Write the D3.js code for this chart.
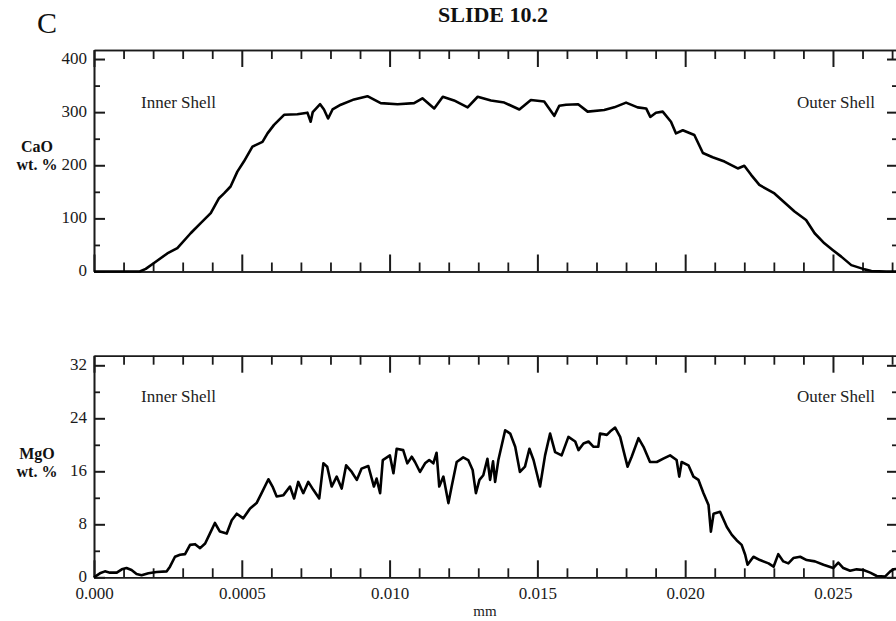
<!DOCTYPE html>
<html>
<head>
<meta charset="utf-8">
<script src="https://cdn.jsdelivr.net/npm/d3@7"></script>
<style>
  body { margin: 0; background: #fff; }
  svg { display: block; font-family: "Liberation Serif", "DejaVu Serif", serif; }
</style>
</head>
<body>
<svg width="896" height="621"></svg>
<script>
// distance across the shell (mm) vs oxide content
var caoProfile = [
  [0, 0], [0.0005, 0], [0.001, 0], [0.00155, 0], [0.00175, 5], [0.00203, 16], [0.00248, 34],
  [0.00282, 44], [0.00327, 72], [0.00361, 91], [0.00395, 110], [0.00423, 138], [0.0044, 147],
  [0.00462, 160], [0.00485, 188], [0.00507, 207], [0.00536, 235], [0.0057, 244], [0.00587, 260],
  [0.00609, 276], [0.00643, 295], [0.00688, 296], [0.00722, 299], [0.00733, 282], [0.0074, 300],
  [0.00765, 315], [0.00778, 305], [0.00792, 288], [0.00807, 305], [0.00835, 314], [0.0088, 324],
  [0.00925, 330], [0.0097, 317], [0.01027, 315], [0.01083, 317], [0.01111, 326], [0.01151, 307],
  [0.0118, 329], [0.01218, 322], [0.01264, 309], [0.01298, 329], [0.01343, 322], [0.01388, 318],
  [0.01439, 305], [0.01478, 323], [0.01523, 320], [0.01557, 293], [0.01574, 312], [0.01597, 314],
  [0.01638, 315], [0.0167, 301], [0.01726, 304], [0.0176, 309], [0.018, 318], [0.01839, 309],
  [0.01868, 307], [0.01882, 291], [0.01901, 299], [0.01924, 301], [0.01952, 282], [0.01969, 260],
  [0.01992, 266], [0.02031, 257], [0.0206, 223], [0.02093, 215], [0.02133, 207], [0.02178, 194],
  [0.022, 199], [0.02223, 182], [0.02251, 163], [0.02302, 147], [0.02336, 130], [0.0237, 113],
  [0.02409, 97], [0.02438, 72], [0.02471, 53], [0.025, 40], [0.02528, 28], [0.02562, 12],
  [0.02607, 4], [0.0263, 1], [0.0268, 0], [0.0272, 0]
];

var mgoProfile = [
  [0, 0], [0.0002, 0.6], [0.00037, 0.9], [0.00054, 0.7], [0.00077, 0.7], [0.00094, 1.2], [0.0011, 1.4],
  [0.00127, 1.1], [0.00144, 0.5], [0.00161, 0.3], [0.00184, 0.6], [0.00212, 0.8], [0.00246, 0.9],
  [0.00257, 1.6], [0.00274, 3.1], [0.00291, 3.4], [0.00308, 3.5], [0.00325, 4.9], [0.00342, 5.0],
  [0.00359, 4.4], [0.00376, 5.1], [0.00392, 6.6], [0.00409, 8.2], [0.00426, 6.9], [0.00449, 6.6],
  [0.00466, 8.6], [0.00483, 9.6], [0.00505, 8.9], [0.00528, 10.4], [0.0055, 11.2], [0.00567, 12.7],
  [0.0059, 14.8], [0.00604, 13.7], [0.00618, 12.2], [0.00641, 12.4], [0.00663, 13.7], [0.00677, 11.9],
  [0.00691, 14.4], [0.00708, 12.7], [0.00725, 14.4], [0.00742, 13.2], [0.00762, 11.9], [0.00776, 17.2],
  [0.00789, 16.7], [0.00804, 13.7], [0.00821, 15.2], [0.00838, 13.4], [0.00853, 16.9], [0.00872, 15.9],
  [0.00889, 14.7], [0.00905, 16.4], [0.00928, 16.8], [0.00947, 13.7], [0.00956, 14.9], [0.00968, 12.7],
  [0.00977, 17.7], [0.01001, 18.4], [0.01013, 15.7], [0.01024, 19.4], [0.01046, 19.2], [0.0106, 17.2],
  [0.01075, 18.2], [0.01086, 17.4], [0.01103, 15.9], [0.0112, 17.2], [0.01134, 17.7], [0.01148, 17.2],
  [0.01159, 18.8], [0.01168, 13.7], [0.01182, 15.2], [0.01199, 11.2], [0.0121, 13.7], [0.01227, 17.4],
  [0.01249, 18.1], [0.01266, 17.7], [0.01281, 16.2], [0.01292, 12.7], [0.01304, 14.7], [0.01317, 15.4],
  [0.01331, 17.9], [0.0134, 14.7], [0.0135, 17.5], [0.01357, 14.4], [0.01368, 17.7], [0.01391, 22.2],
  [0.01408, 21.7], [0.01425, 19.7], [0.01441, 15.9], [0.01458, 16.7], [0.01473, 19.4], [0.01487, 17.7],
  [0.01509, 13.7], [0.01526, 18.4], [0.01543, 21.7], [0.0156, 18.9], [0.01582, 18.4], [0.01605, 21.2],
  [0.01628, 20.5], [0.01639, 19.2], [0.01656, 20.2], [0.01673, 20.5], [0.0169, 19.7], [0.01706, 19.7],
  [0.01712, 21.7], [0.01735, 21.5], [0.01746, 22.0], [0.01763, 22.6], [0.0178, 21.2], [0.01791, 19.2],
  [0.01805, 16.7], [0.01819, 18.2], [0.01842, 21.0], [0.01859, 19.7], [0.01881, 17.4], [0.01904, 17.4],
  [0.01926, 17.9], [0.01949, 18.4], [0.01971, 17.7], [0.0198, 15.2], [0.01988, 17.4], [0.02011, 16.9],
  [0.02028, 15.2], [0.02045, 14.7], [0.02062, 12.7], [0.02079, 10.9], [0.02087, 6.9], [0.02096, 9.6],
  [0.02118, 9.9], [0.02141, 7.6], [0.02158, 6.4], [0.02174, 5.6], [0.02191, 4.9], [0.02203, 3.4],
  [0.02211, 1.9], [0.02231, 3.1], [0.02253, 2.6], [0.02282, 2.1], [0.02299, 1.6], [0.02315, 3.5],
  [0.02332, 2.4], [0.02349, 2.1], [0.02366, 2.9], [0.02389, 3.1], [0.02411, 2.6], [0.02439, 2.4],
  [0.02468, 1.9], [0.02501, 1.4], [0.02518, 2.2], [0.02535, 1.4], [0.02558, 1.0], [0.0258, 1.2],
  [0.02603, 1.1], [0.02626, 0.7], [0.02648, 0.2], [0.02676, 0.1], [0.02693, 0.85], [0.02704, 1.2],
  [0.0272, 1.3]
];

var xMajorTicks = [0, 0.005, 0.010, 0.015, 0.020, 0.025];
var xTickLabels = ["0.000", "0.0005", "0.010", "0.015", "0.020", "0.025"];
var xMinorTicks = [0.001, 0.002, 0.003, 0.004, 0.006, 0.007, 0.008, 0.009, 0.011, 0.012, 0.013, 0.014,
  0.016, 0.017, 0.018, 0.019, 0.021, 0.022, 0.023, 0.024, 0.026, 0.027];
var caoMajorTicks = [0, 100, 200, 300, 400];
var caoMinorTicks = [50, 150, 250, 350];
var mgoMajorTicks = [0, 8, 16, 24, 32];
var mgoMinorTicks = [4, 12, 20, 28];

var svg = d3.select("svg");

var x = d3.scaleLinear().domain([0, 0.0272]).range([94, 898]);

var panels = [
  { data: caoProfile, y: d3.scaleLinear().domain([0, 417]).range([271.5, 50]),
    major: caoMajorTicks, minor: caoMinorTicks, name: "CaO", labelY: 152, textY: 108, xLabels: false },
  { data: mgoProfile, y: d3.scaleLinear().domain([0, 33.45]).range([577.3, 355.7]),
    major: mgoMajorTicks, minor: mgoMinorTicks, name: "MgO", labelY: 459, textY: 402, xLabels: true }
];

function styleAxis(g, width) {
  g.select(".domain").attr("stroke", "#1a1a1a").attr("stroke-width", 1.6);
  g.selectAll(".tick line").attr("stroke", "#1a1a1a").attr("stroke-width", width);
  g.selectAll("text").attr("fill", "#1a1a1a").style("font-size", "17px")
    .style("font-family", "'Liberation Serif', serif");
}

panels.forEach(function(p) {
  var y = p.y;
  var top = y.range()[1], bottom = y.range()[0];
  var g = svg.append("g");

  // bottom axis: labels only on the lower panel
  g.append("g").attr("transform", "translate(0," + bottom + ")")
    .call(d3.axisBottom(x).tickValues(xMajorTicks).tickSize(-17).tickSizeOuter(0).tickPadding(10)
      .tickFormat(function(d, i) { return p.xLabels ? xTickLabels[i] : ""; }))
    .call(styleAxis, 2);
  g.append("g").attr("transform", "translate(0," + bottom + ")")
    .call(d3.axisBottom(x).tickValues(xMinorTicks).tickSize(-9).tickSizeOuter(0).tickFormat(""))
    .call(styleAxis, 1.8);

  // top axis
  g.append("g").attr("transform", "translate(0," + top + ")")
    .call(d3.axisTop(x).tickValues(xMajorTicks).tickSize(-17).tickSizeOuter(0).tickFormat(""))
    .call(styleAxis, 2);
  g.append("g").attr("transform", "translate(0," + top + ")")
    .call(d3.axisTop(x).tickValues(xMinorTicks).tickSize(-9).tickSizeOuter(0).tickFormat(""))
    .call(styleAxis, 1.8);

  // left axis
  g.append("g").attr("transform", "translate(" + x.range()[0] + ",0)")
    .call(d3.axisLeft(y).tickValues(p.major).tickSize(-11).tickSizeOuter(0).tickPadding(7))
    .call(styleAxis, 2)
    .selectAll("text").attr("dy", "0.25em");
  g.append("g").attr("transform", "translate(" + x.range()[0] + ",0)")
    .call(d3.axisLeft(y).tickValues(p.minor).tickSize(-6).tickSizeOuter(0).tickFormat(""))
    .call(styleAxis, 1.8);

  // right axis
  g.append("g").attr("transform", "translate(" + x.range()[1] + ",0)")
    .call(d3.axisRight(y).tickValues(p.major).tickSize(-11).tickSizeOuter(0).tickFormat(""))
    .call(styleAxis, 2);
  g.append("g").attr("transform", "translate(" + x.range()[1] + ",0)")
    .call(d3.axisRight(y).tickValues(p.minor).tickSize(-6).tickSizeOuter(0).tickFormat(""))
    .call(styleAxis, 1.8);

  var line = d3.line()
    .x(function(d) { return x(d[0]); })
    .y(function(d) { return y(d[1]); });

  g.append("path")
    .datum(p.data)
    .attr("fill", "none")
    .attr("stroke", "#000")
    .attr("stroke-width", 2.6)
    .attr("stroke-linejoin", "round")
    .attr("d", line);

  g.append("text").attr("x", 141).attr("y", p.textY)
    .style("font-size", "17px").attr("fill", "#222").text("Inner Shell");
  g.append("text").attr("x", 875).attr("y", p.textY).attr("text-anchor", "end")
    .style("font-size", "17px").attr("fill", "#222").text("Outer Shell");

  var lab = g.append("text").attr("text-anchor", "middle")
    .style("font-size", "16px").style("font-weight", "bold").attr("fill", "#111");
  lab.append("tspan").attr("x", 37).attr("y", p.labelY).text(p.name);
  lab.append("tspan").attr("x", 37).attr("y", p.labelY + 18).text("wt. %");
});

svg.append("text").attr("x", 37).attr("y", 33)
  .style("font-size", "30px").attr("fill", "#111").text("C");

svg.append("text").attr("x", 493).attr("y", 22).attr("text-anchor", "middle")
  .style("font-size", "22px").style("font-weight", "bold").attr("fill", "#111").text("SLIDE 10.2");

svg.append("text").attr("x", 485).attr("y", 616).attr("text-anchor", "middle")
  .style("font-size", "15px").attr("fill", "#222").text("mm");
</script>
</body>
</html>
